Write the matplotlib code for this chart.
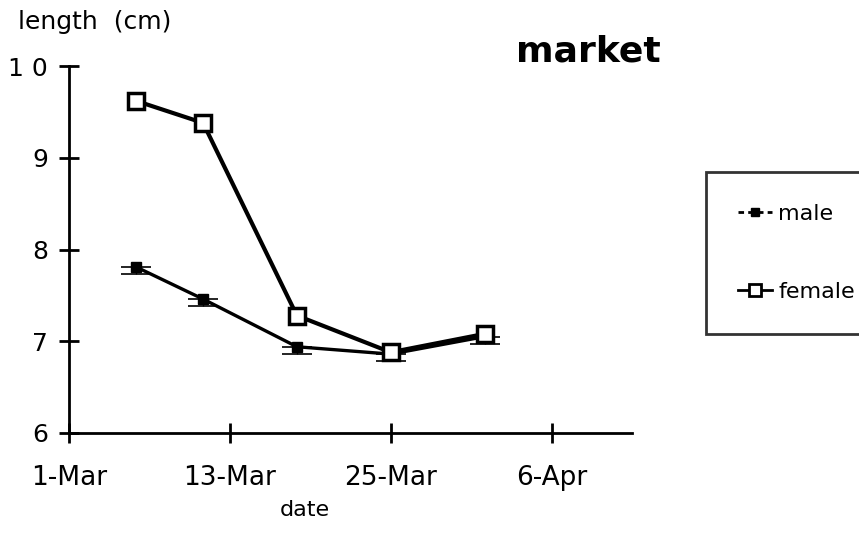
import numpy as np
import matplotlib
matplotlib.use("Agg")
import matplotlib.pyplot as plt
import matplotlib.dates as mdates
from matplotlib.lines import Line2D

# sampling dates and mean lengths (cm)
dates = np.array(['1995-03-06', '1995-03-11', '1995-03-18', '1995-03-25', '1995-04-01'],
                 dtype='datetime64[D]')
male = [7.81, 7.46, 6.94, 6.86, 7.05]
female = [9.62, 9.38, 7.28, 6.88, 7.08]
male_err = [0.08, 0.08, 0.08, 0.08, 0.08]

tick_dates = np.array(['1995-03-01', '1995-03-13', '1995-03-25', '1995-04-06'],
                      dtype='datetime64[D]')
tick_labels = ['1-Mar', '13-Mar', '25-Mar', '6-Apr']

fig = plt.figure(figsize=(8.59, 5.46), dpi=100)
ax = fig.add_axes([69 / 859, 113 / 546, 563 / 859, 367 / 546])

x = mdates.date2num(dates)

# male: filled squares with a short bar underneath
ax.errorbar(x, male, yerr=[male_err, [0] * 5], fmt='none', ecolor='black',
            elinewidth=1, capsize=11, capthick=1.2, zorder=2)
ax.plot(x, male, '-', color='black', lw=2.4, marker='s', ms=7,
        mfc='black', mec='black', zorder=3)
ax.plot(x, female, '-', color='black', lw=3, marker='s', ms=12,
        mfc='white', mec='black', mew=2.5, zorder=4)

ax.set_xlim(mdates.date2num(np.datetime64('1995-03-01')),
            mdates.date2num(np.datetime64('1995-04-12')))
ax.set_ylim(6, 10)
ax.set_xticks(mdates.date2num(tick_dates))
ax.set_xticklabels(tick_labels)
ax.set_yticks([6, 7, 8, 9, 10])
ax.set_yticklabels(['6', '7', '8', '9', '1 0'])

for s in ['top', 'right']:
    ax.spines[s].set_visible(False)
for s in ['left', 'bottom']:
    ax.spines[s].set_linewidth(2)
ax.tick_params(direction='inout', length=14, width=2, labelsize=18)
ax.tick_params(axis='x', pad=16, labelsize=19)
ax.tick_params(axis='y', pad=8)

fig.text(18 / 859, 1 - 22 / 546, 'length  (cm)', fontsize=18, va='center', ha='left')
fig.text(305 / 859, 1 - 510 / 546, 'date', fontsize=16, va='center', ha='center')
fig.text(588 / 859, 1 - 62 / 546, 'market', fontsize=26, fontweight='bold',
         va='baseline', ha='center')

# legend box
h_male = Line2D([], [], color='black', lw=2, ls=(0, (2, 1.5)), marker='s', ms=6,
                mfc='black', mec='black')
h_female = Line2D([], [], color='black', lw=2, marker='s', ms=9, mfc='white',
                  mec='black', mew=2)
leg = fig.legend([h_male, h_female], ['male', 'female'], loc='upper left',
                 bbox_to_anchor=(706 / 859, 1 - 172 / 546), fontsize=16,
                 frameon=True, fancybox=False, edgecolor='black',
                 handlelength=1.5, handletextpad=0.3, labelspacing=2.6,
                 borderpad=1.45, borderaxespad=0)
leg.get_frame().set_linewidth(2)

fig.savefig('out.png', dpi=100)
